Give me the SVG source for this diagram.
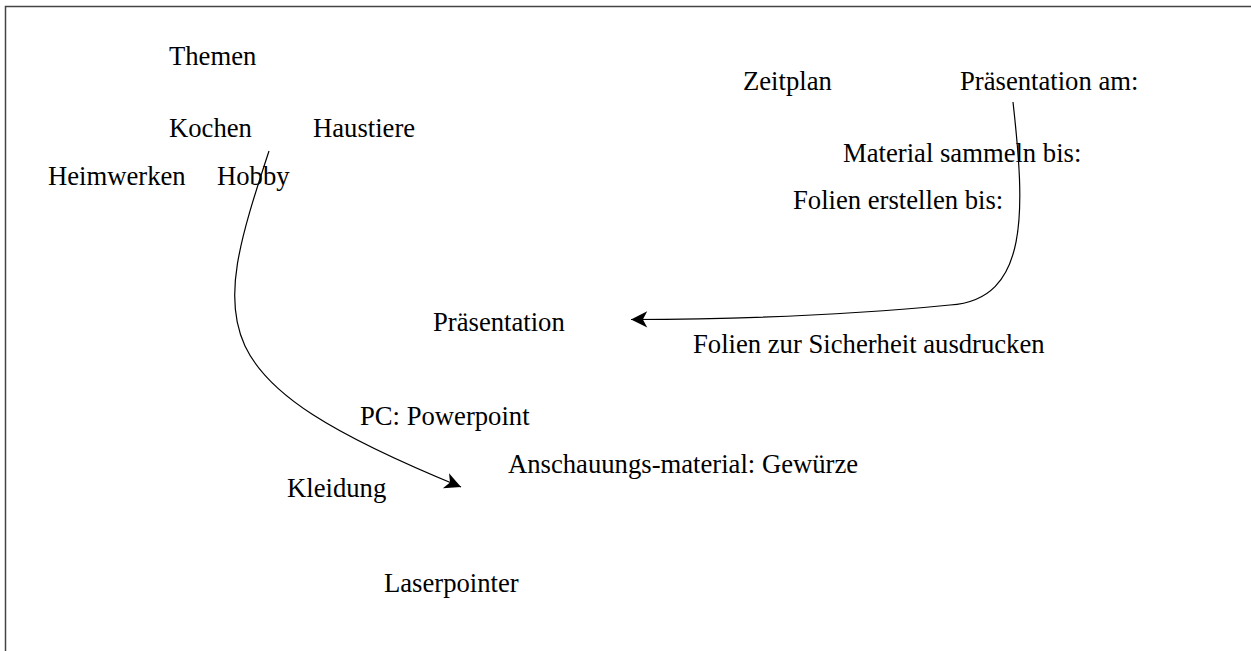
<svg xmlns="http://www.w3.org/2000/svg" width="1251" height="651" viewBox="0 0 1251 651">
<style>
text{font-family:"Liberation Serif","Times New Roman",serif;font-size:26.67px;fill:#000}
.c{fill:none;stroke:#000;stroke-width:1.2}
</style>
<defs>
<marker id="arr" markerUnits="userSpaceOnUse" orient="auto" markerWidth="20" markerHeight="20" viewBox="-15 -8 16 16" refX="0" refY="0">
<path d="M0 0 L-13 -6.5 L-9.5 0 L-13 6.5 Z" fill="#000"/>
</marker>
</defs>
<rect width="1251" height="651" fill="#fff"/>
<path d="M5.5 651 V6.5 H1251" fill="none" stroke="#444" stroke-width="1.5"/>
<g id="connectors">
<path class="c" d="M269 151 C210 330 200 380 461 487" marker-end="url(#arr)"/>
<path class="c" d="M1013 102 C1025 210 1030 300 950 305 C900 310 800 319 631 319.5" marker-end="url(#arr)"/>
</g>
<g id="themen"><text x="169" y="65">Themen</text></g>
<g id="kochen"><text x="169" y="137">Kochen</text></g>
<g id="haustiere"><text x="313" y="137">Haustiere</text></g>
<g id="heimwerken"><text x="48" y="185">Heimwerken</text></g>
<g id="hobby"><text x="217" y="185">Hobby</text></g>
<g id="zeitplan"><text x="743" y="90">Zeitplan</text></g>
<g id="praesentation-am"><text x="960" y="90">Präsentation am:</text></g>
<g id="material"><text x="843" y="162">Material sammeln bis:</text></g>
<g id="folien-erstellen"><text x="793" y="209">Folien erstellen bis:</text></g>
<g id="praesentation"><text x="433" y="331">Präsentation</text></g>
<g id="folien-drucken"><text x="693" y="353">Folien zur Sicherheit ausdrucken</text></g>
<g id="pc"><text x="360" y="425">PC: Powerpoint</text></g>
<g id="anschauung"><text x="508" y="473">Anschauungs-material: Gewürze</text></g>
<g id="kleidung"><text x="287" y="497">Kleidung</text></g>
<g id="laserpointer"><text x="384" y="592">Laserpointer</text></g>
</svg>
